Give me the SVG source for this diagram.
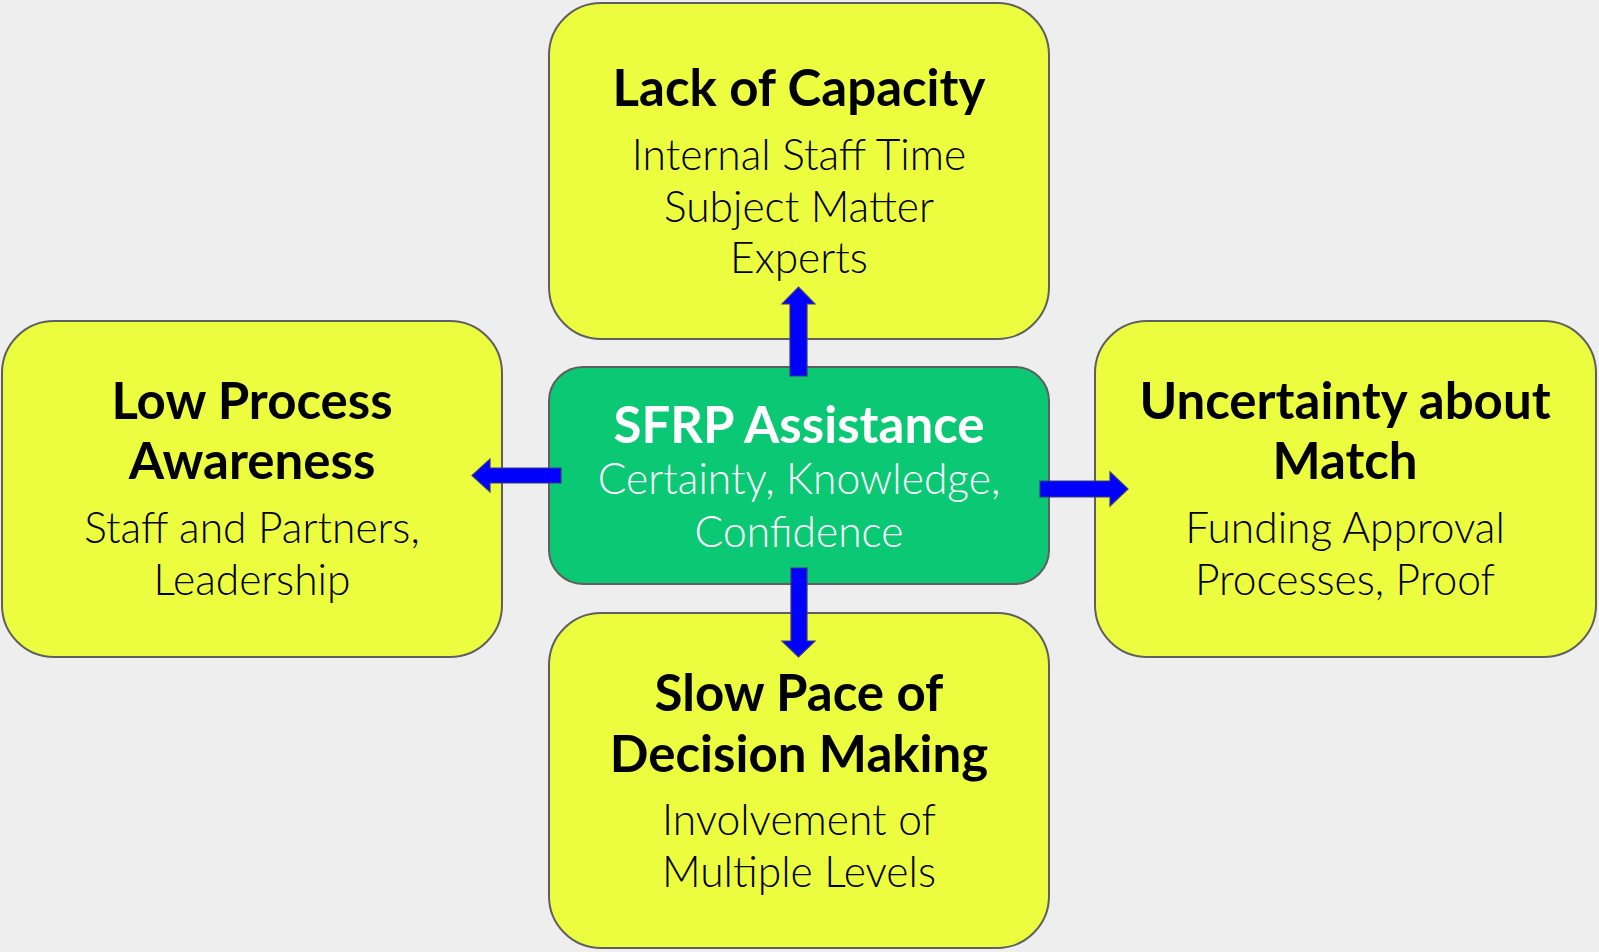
<svg xmlns="http://www.w3.org/2000/svg" width="1599" height="952" viewBox="0 0 1599 952">
<style>
.box{fill:#ecfd40;stroke:#5f5f5f;stroke-width:2}
.ctr{fill:#0bc874;stroke:#5f5f5f;stroke-width:2}
.t{font-family:Lato,"Open Sans",sans-serif;font-weight:700;font-size:51px;fill:#000;text-anchor:middle}
.s{font-family:Lato,"Open Sans",sans-serif;font-weight:300;font-size:42.5px;fill:#000;text-anchor:middle}
.w{fill:#fff}
.arr{fill:#0000ff;stroke:#3a3a7a;stroke-width:1.2;stroke-linejoin:miter}
</style>
<rect width="1599" height="952" fill="#eeeeee"/>
<g id="top">
<rect class="box" x="549" y="3" width="500" height="336" rx="52"/>
<text class="t" x="799" y="106">Lack of Capacity</text>
<text class="s" x="799" y="170">Internal Staff Time</text>
<text class="s" x="799" y="222">Subject Matter</text>
<text class="s" x="799" y="273">Experts</text>
</g>
<g id="left">
<rect class="box" x="2" y="321" width="500" height="336" rx="52"/>
<text class="t" x="252" y="419">Low Process</text>
<text class="t" x="252" y="479">Awareness</text>
<text class="s" x="252" y="543">Staff and Partners,</text>
<text class="s" x="252" y="595">Leadership</text>
</g>
<g id="right">
<rect class="box" x="1095" y="321" width="501" height="336" rx="52"/>
<text class="t" x="1345" y="419">Uncertainty about</text>
<text class="t" x="1345" y="479">Match</text>
<text class="s" x="1345" y="543">Funding Approval</text>
<text class="s" x="1345" y="595">Processes, Proof</text>
</g>
<g id="bottom">
<rect class="box" x="549" y="613" width="500" height="335" rx="52"/>
<text class="t" x="799" y="711">Slow Pace of</text>
<text class="t" x="799" y="772">Decision Making</text>
<text class="s" x="799" y="835">Involvement of</text>
<text class="s" x="799" y="887">Multiple Levels</text>
</g>
<g id="center">
<rect class="ctr" x="549" y="367" width="500" height="217" rx="34"/>
<text class="t w" x="799" y="443">SFRP Assistance</text>
<text class="s w" x="799" y="494">Certainty, Knowledge,</text>
<text class="s w" x="799" y="547">Confidence</text>
</g>
<g id="connectors">
<polygon class="arr" points="790,376 790,304 782,304 798.5,287 815,304 807,304 807,376"/>
<polygon class="arr" points="791,568 791,641 782,641 798.5,657 815,641 807,641 807,568"/>
<polygon class="arr" points="561,468 490,468 490,459 472,475.5 490,492 490,483 561,483"/>
<polygon class="arr" points="1040,481 1110,481 1110,472 1128,489 1110,506 1110,497 1040,497"/>
</g>
</svg>
